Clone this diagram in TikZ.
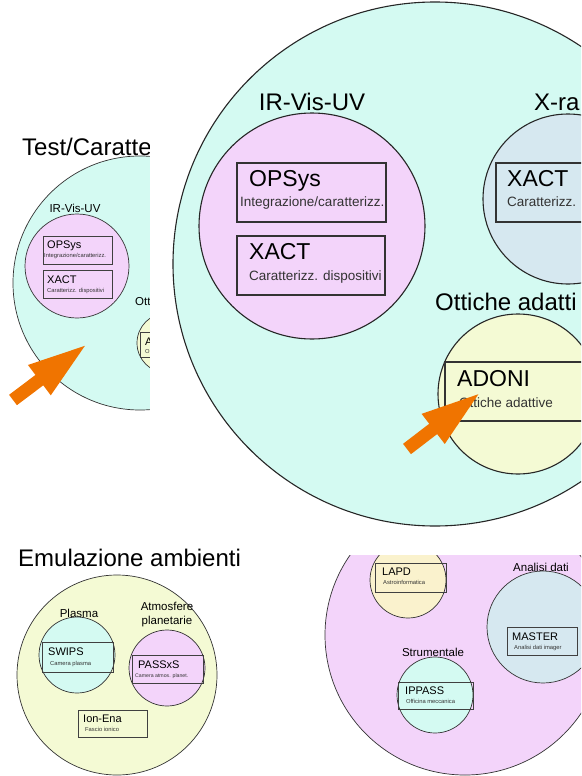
\documentclass[tikz,border=0pt]{standalone}
\usepackage{fontspec}
\setmainfont{Liberation Sans}
\definecolor{acqua}{RGB}{212,250,242}
\definecolor{rosa}{RGB}{243,212,250}
\definecolor{azzurro}{RGB}{214,232,240}
\definecolor{giallo}{RGB}{244,250,212}
\definecolor{crema}{RGB}{250,242,205}
\definecolor{arancio}{RGB}{240,116,0}

\begin{document}
\begin{tikzpicture}[x=1pt,y=-1pt,
  every node/.style={inner sep=0pt},
  cerchio/.style={draw=black!85,line width=1.1pt},
  cerchietto/.style={draw=black!80,line width=0.7pt},
  riquadro/.style={draw=black!80,line width=1.3pt},
  riquadretto/.style={draw=black!75,line width=0.7pt},
  titolo/.style={font=\fontsize{24}{28}\selectfont},
  sigla/.style={anchor=base west,font=\fontsize{23}{26}\selectfont},
  descr/.style={anchor=base west,text=black!80,font=\fontsize{13.5}{15}\selectfont},
  etich/.style={font=\fontsize{11.5}{14}\selectfont,align=center},
  piccola/.style={anchor=base west,font=\fontsize{11}{13}\selectfont},
  minima/.style={anchor=base west,text=black!80,font=\fontsize{5.8}{7}\selectfont},
  freccia/.pic={\fill[arancio] (0,-6.5) -- (33,-6.5) -- (33,-19) -- (90,0) -- (33,19) -- (33,6.5) -- (0,6.5) -- cycle;}]
\useasboundingbox (0,0) rectangle (581,776);

% test / caratterizzazione (piccolo)
\begin{scope}
\clip (0,125) rectangle (150,415);
\node[titolo,anchor=base west] (testA) at (22,155) {Test/Caratte};
\draw[cerchietto,fill=acqua] (140,283) circle[radius=127];
\node[etich] (irA) at (75,208) {IR-Vis-UV};
\draw[cerchietto,fill=rosa] (77,266) circle[radius=52];
\draw[riquadretto] (43,236) rectangle (112,264);
\node[piccola] (opsysA) at (47,248) {OPSys};
\node[minima] (opsysAd) at (44,257) {Integrazione/caratterizz.};
\draw[riquadretto] (43,270) rectangle (112,298);
\node[piccola] (xactA) at (47,283) {XACT};
\node[minima] (xactAd) at (47,292) {Caratterizz. dispositivi};
\node[etich,anchor=west] (ottA) at (135,302) {Ott};
\draw[cerchietto,fill=giallo] (167,343) circle[radius=30];
\draw[riquadretto] (140,332) rectangle (180,357);
\node[piccola] (adoniA) at (145,345) {A};
\node[minima] (adoniAd) at (145,353) {O};
\pic[rotate=37] at (13,400) {freccia};
\end{scope}

% test / caratterizzazione (grande)
\begin{scope}
\clip (150,0) rectangle (581,540);
\fill[white] (150,0) rectangle (581,540);
\draw[cerchio,fill=acqua] (435,264) circle[radius=262];
\node[titolo] (irB) at (312,102) {IR-Vis-UV};
\draw[cerchio,fill=rosa] (312,226) circle[radius=113];
\draw[riquadro] (237,163) rectangle (386,222);
\node[sigla] (opsysB) at (249,186) {OPSys};
\node[descr] (opsysBd) at (240,206) {Integrazione/caratterizz.};
\draw[riquadro] (237,236) rectangle (385,295);
\node[sigla] (xactB) at (249,259) {XACT};
\node[descr] (xactBd) at (249,280) {Caratterizz. dispositivi};
\node[titolo,anchor=west] (xray) at (534,102) {X-ra};
\draw[cerchio,fill=azzurro] (568,199) circle[radius=85];
\draw[riquadro] (496,163) rectangle (600,222);
\node[sigla] (xactC) at (507,186) {XACT};
\node[descr] (xactCd) at (507,206) {Caratterizz.};
\node[titolo,anchor=west] (ottB) at (435,302) {Ottiche adatti};
\draw[cerchio,fill=giallo] (518,394) circle[radius=80];
\draw[riquadro] (445,362) rectangle (600,421);
\node[sigla] (adoniB) at (457,386) {ADONI};
\node[descr] (adoniBd) at (459,407) {Ottiche adattive};
\pic[rotate=37.5] at (407,449) {freccia};
\end{scope}

% emulazione ambienti
\begin{scope}
\clip (0,540) rectangle (290,776);
\node[titolo,anchor=base west] (emul) at (18,566) {Emulazione ambienti};
\draw[cerchietto,fill=giallo] (117,675) circle[radius=100];
\node[etich] (plasma) at (79,613) {Plasma};
\draw[cerchietto,fill=acqua] (77,655) circle[radius=38];
\draw[riquadretto] (42,642) rectangle (113,672);
\node[piccola] (swips) at (48,655) {SWIPS};
\node[minima] (swipsd) at (50,665) {Camera plasma};
\node[etich] (atmo) at (167,615) {Atmosfere\\planetarie};
\draw[cerchietto,fill=rosa] (167,668) circle[radius=38];
\draw[riquadretto] (132,655) rectangle (203,683);
\node[piccola] (passxs) at (138,668) {PASSxS};
\node[minima,font=\fontsize{5.2}{6}\selectfont] (passxsd) at (135,677) {Camera atmos. planet.};
\draw[riquadretto] (78,710) rectangle (147,737);
\node[piccola] (ionena) at (83,722) {Ion-Ena};
\node[minima] (ionenad) at (85,731) {Fascio ionico};
\end{scope}

% analisi / strumentale
\begin{scope}
\clip (300,555) rectangle (581,776);
\draw[cerchietto,fill=rosa] (465,635) circle[radius=140];
\draw[cerchietto,fill=crema] (408,580) circle[radius=38];
\draw[riquadretto] (375,563) rectangle (446,592);
\node[piccola] (lapd) at (382,575) {LAPD};
\node[minima] (lapdd) at (383,584) {Astroinformatica};
\node[etich] (analisi) at (541,567) {Analisi dati};
\draw[cerchietto,fill=azzurro] (543,627) circle[radius=56];
\draw[riquadretto] (507,627) rectangle (577,655);
\node[piccola] (master) at (512,640) {MASTER};
\node[minima] (masterd) at (514,649) {Analisi dati imager};
\node[etich] (strum) at (433,652) {Strumentale};
\draw[cerchietto,fill=acqua] (435,695) circle[radius=38];
\draw[riquadretto] (398,682) rectangle (473,709);
\node[piccola] (ippass) at (405,694) {IPPASS};
\node[minima] (ippassd) at (406,703) {Officina meccanica};
\end{scope}
\end{tikzpicture}
\end{document}
